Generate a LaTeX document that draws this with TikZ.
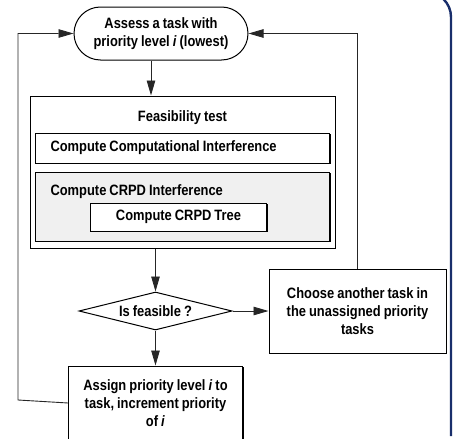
\documentclass[tikz,border=0pt]{standalone}
\usepackage{fontspec}
\setmainfont{Liberation Sans}[FakeStretch=0.86, WordSpace=0.85]
\usepackage{tikz}
\usetikzlibrary{shapes.geometric,shapes.misc,arrows.meta,positioning,shadows}
\definecolor{framenavy}{rgb}{0.10,0.18,0.42}
\definecolor{boxgray}{rgb}{0.94,0.94,0.94}

\begin{document}
\begin{tikzpicture}[
      x=1pt, y=-1pt,
      txt/.style={font=\fontsize{15}{18}\selectfont\bfseries},
      shade/.style={drop shadow={shadow xshift=1.3pt, shadow yshift=-1.3pt, fill=black, opacity=1}},
      term/.style={rounded rectangle, draw, fill=white, line width=1pt, txt, align=center, minimum width=178pt, minimum height=53pt, inner sep=2pt},
      outer/.style={rectangle, draw, fill=white, line width=1pt, shade, minimum width=305pt, minimum height=152pt, inner sep=0pt},
      inbox/.style={rectangle, draw, fill=white, line width=1pt, shade, txt, inner sep=0pt},
      decide/.style={diamond, draw, fill=white, line width=1pt, txt, aspect=4, inner sep=0pt, minimum width=153pt, minimum height=38pt},
      stepbox/.style={rectangle, draw, fill=white, line width=1pt, shade, txt, align=center, inner sep=2pt},
      arrow/.style={-{Triangle[length=15pt,width=8.5pt]}, line width=0.9pt, color=black!85}
    ]
      \useasboundingbox (0,0) rectangle (453,439);

      \node[term] (term) at (161,33.5) {Assess a task with\\priority level \textit{i} (lowest)};

      \node[outer, below=35pt of term, xshift=21.5pt] (feas) {};
      \node[txt] (feastitle) at ([yshift=-22pt]feas.north) {Feasibility test};
      \node[inbox, below=37pt of feas.north, minimum width=294pt, minimum height=30pt] (comp) {};
      \node[txt, anchor=west] (comptitle) at ([xshift=12pt]comp.west) {Compute Computational Interference};
      \node[inbox, fill=boxgray, below=8pt of comp, minimum width=294pt, minimum height=69pt] (crpd) {};
      \node[txt, anchor=west] (crpdtitle) at ([xshift=12pt,yshift=-20pt]crpd.north west) {Compute CRPD Interference};
      \node[inbox, anchor=north, minimum width=176pt, minimum height=28pt] (tree) at ([xshift=-4pt,yshift=-31pt]crpd.north) {Compute CRPD Tree};

      \node[decide, below=43pt of feas, xshift=-27pt] (check) {Is feasible ?};
      \node[stepbox, right=36pt of check, minimum width=177pt, minimum height=84pt] (choose) {Choose another task in\\the unassigned priority\\tasks};
      \node[stepbox, below=35pt of check, minimum width=174pt, minimum height=74pt] (assign) {Assign priority level \textit{i} to\\task, increment priority\\of \textit{i}};

      \coordinate (loopleft) at (18,400);
      \coordinate (loopright) at (choose.north);

      \draw[arrow] ([xshift=-10pt]term.south) -- ([xshift=-10pt]term.south |- feas.north);
      \draw[arrow] (check.north |- feas.south) -- (check.north);
      \draw[arrow] (check.east) -- (choose.west);
      \draw[arrow] (check.south) -- (assign.north);
      \draw[arrow] (assign.west) -- (loopleft) |- (term.west);
      \draw[arrow] (loopright) |- (term.east);

      \draw[framenavy, line width=2.4pt, rounded corners=25pt] (380,-8) -- (451,-8) -- (451,436);
    \end{tikzpicture}
\end{document}
